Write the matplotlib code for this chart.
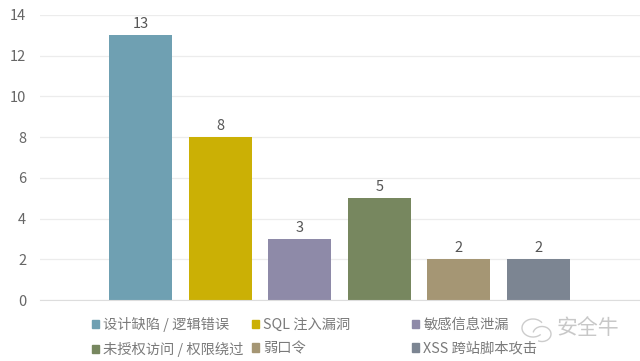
import matplotlib
matplotlib.use('Agg')
import matplotlib.pyplot as plt
from matplotlib.patches import Arc, Patch

plt.rcParams['font.family'] = ['Noto Sans CJK SC', 'DejaVu Sans']

categories = ['设计缺陷 / 逻辑错误', 'SQL 注入漏洞', '敏感信息泄漏',
              '未授权访问 / 权限绕过', '弱口令', 'XSS 跨站脚本攻击']
counts = [13, 8, 3, 5, 2, 2]
colors = ['#6fa0b2', '#cbb005', '#8e8aa8', '#77875f', '#a59674', '#7c8592']
yticks = [0, 2, 4, 6, 8, 10, 12, 14]
legend_columns = [[0, 3], [1, 4], [2, 5]]

fig = plt.figure(figsize=(6.4, 3.61), dpi=100)
ax = fig.add_axes([40 / 640, 1 - 300 / 361, 600 / 640, 285 / 361])

xs = range(len(counts))
ax.bar(xs, counts, width=0.79, color=colors, zorder=2)
for x, v in zip(xs, counts):
    ax.text(x, v + 0.2, str(v), ha='center', va='bottom', fontsize=10.5, color='#555555')

ax.set_xlim(-1.263, 6.275)
ax.set_ylim(0, 14)
ax.set_yticks(yticks)
ax.set_xticks([])
ax.tick_params(axis='y', length=0, labelsize=10.5, labelcolor='#666666', pad=10)
ax.grid(axis='y', color='#ececec', linewidth=0.9, zorder=0)
for side in ['top', 'right', 'left']:
    ax.spines[side].set_visible(False)
ax.spines['bottom'].set_color('#dddddd')

# three separate legends, the columns sit at uneven positions in the original
for col, left in zip(legend_columns, [92, 252, 412]):
    handles = [Patch(color=colors[i], label=categories[i]) for i in col]
    fig.legend(handles=handles, frameon=False, fontsize=10.3, labelcolor='#7a7a7a',
               loc='center left', bbox_to_anchor=(left / 640, 1 - 337 / 361),
               handlelength=0.5, handleheight=0.5, handletextpad=0.3,
               labelspacing=0.65, borderpad=0, borderaxespad=0)

# watermark
fig.text(557 / 640, 1 - 328 / 361, '安全牛', ha='left', va='center', fontsize=15, color='#c8c8c8')
wm = fig.add_axes([0, 0, 1, 1], facecolor='none')
wm.set_xlim(0, 640)
wm.set_ylim(361, 0)
wm.axis('off')
wm.add_patch(Arc((533, 328), 22, 18, theta1=40, theta2=330, color='#cccccc', lw=1))
wm.add_patch(Arc((542, 334), 18, 15, theta1=-170, theta2=120, color='#cccccc', lw=1))

fig.savefig('out.png', dpi=100)
